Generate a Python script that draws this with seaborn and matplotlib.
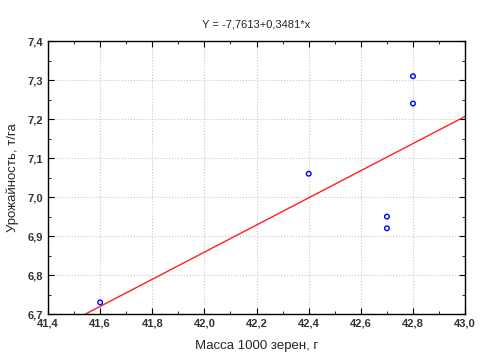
import numpy as np
import pandas as pd
import matplotlib.pyplot as plt
import seaborn as sns
from matplotlib.ticker import MultipleLocator, FuncFormatter

# данные
massa = [41.6, 42.4, 42.7, 42.7, 42.8, 42.8]
urozhai = [6.73, 7.06, 6.95, 6.92, 7.31, 7.24]
b0 = -7.7613
b1 = 0.3481
line_x = [41.4, 43.0]
line_y = [b0 + b1 * v for v in line_x]

sns.set_style("ticks")
plt.rcParams['font.family'] = ['Liberation Sans', 'DejaVu Sans']

fig = plt.figure(figsize=(4.83, 3.61), dpi=100)
ax = fig.add_axes([0.0994, 0.130, 0.8636, 0.756])

df = pd.DataFrame({"x": massa, "y": urozhai})
sns.lineplot(x=line_x, y=line_y, ax=ax, color="#ff2020", linewidth=1.0)
sns.scatterplot(data=df, x="x", y="y", ax=ax, marker="o", s=11,
                facecolor="none", edgecolor="#0000ff", linewidth=1.0, zorder=3)

ax.set_xlim(41.4, 43.0)
ax.set_ylim(6.7, 7.4)
ax.xaxis.set_major_locator(MultipleLocator(0.2))
ax.xaxis.set_minor_locator(MultipleLocator(0.1))
ax.yaxis.set_major_locator(MultipleLocator(0.1))
ax.yaxis.set_minor_locator(MultipleLocator(0.05))
fmt = FuncFormatter(lambda v, p: f"{v:.1f}".replace(".", ","))
ax.xaxis.set_major_formatter(fmt)
ax.yaxis.set_major_formatter(fmt)

ax.grid(True, which="major", linestyle=":", color="#c8c8c8", linewidth=0.8)
ax.tick_params(which="both", direction="in", top=True, right=True, labelsize=8, color="black")
ax.tick_params(which="major", length=4)
ax.tick_params(which="minor", length=2)
for lbl in ax.get_xticklabels() + ax.get_yticklabels():
    lbl.set_fontweight("bold")
    lbl.set_color("#333333")
for s in ax.spines.values():
    s.set_color("black")
    s.set_linewidth(1.0)

ax.set_xlabel("Масса 1000 зерен, г", fontsize=9.5, labelpad=8)
ax.set_ylabel("Урожайность, т/га", fontsize=9.5, labelpad=6)
ax.set_title("Y = -7,7613+0,3481*x", fontsize=8, pad=10)

fig.savefig("out.png", dpi=100, facecolor="white")
